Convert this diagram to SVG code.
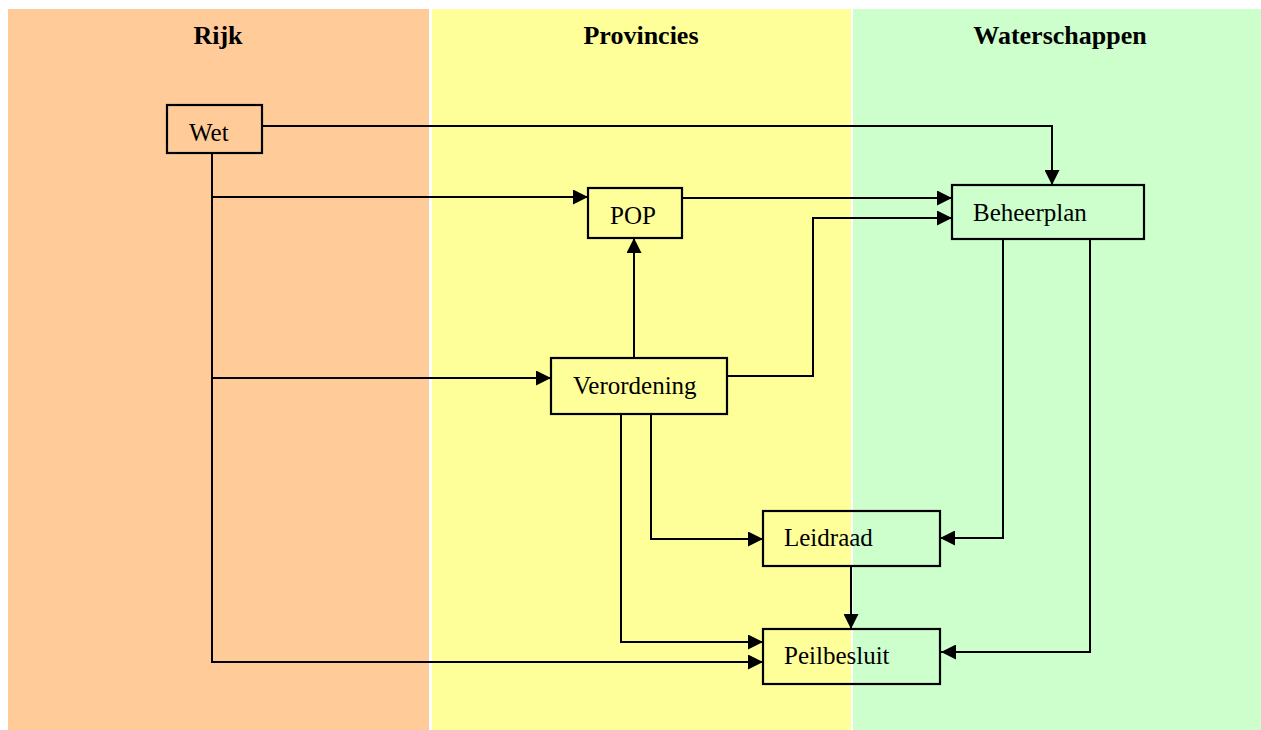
<svg xmlns="http://www.w3.org/2000/svg" width="1261" height="730" viewBox="0 0 1261 730">
<style>
.title{font-family:"Liberation Serif","Times New Roman",serif;font-size:26px;font-weight:bold;text-anchor:middle;fill:#000}
.lbl{font-family:"Liberation Serif","Times New Roman",serif;font-size:25px;fill:#000}
.box{fill:none;stroke:#000;stroke-width:2.2}
.conn path{fill:none;stroke:#000;stroke-width:2}
</style>
<defs>
<marker id="arr" markerUnits="userSpaceOnUse" markerWidth="15" markerHeight="15" refX="15" refY="7.5" orient="auto">
<path d="M0,0 L15,7.5 L0,15 z" fill="#000"/>
</marker>
</defs>
<rect width="1261" height="730" fill="#fff"/>
<g id="bands">
<rect x="8" y="9" width="421" height="721" fill="#FFCC99"/>
<rect x="432" y="9" width="419" height="721" fill="#FFFF99"/>
<rect x="853" y="9" width="408" height="721" fill="#CCFFCC"/>
<text class="title" x="218" y="44">Rijk</text>
<text class="title" x="641" y="44">Provincies</text>
<text class="title" x="1060" y="44">Waterschappen</text>
</g>
<g class="conn" id="connectors">
<path d="M262,126 H1052 V185" marker-end="url(#arr)"/>
<path d="M212,153 V662 H763" marker-end="url(#arr)"/>
<path d="M212,197 H588" marker-end="url(#arr)"/>
<path d="M212,378 H551" marker-end="url(#arr)"/>
<path d="M682,198 H952" marker-end="url(#arr)"/>
<path d="M727,376 H813 V218 H952" marker-end="url(#arr)"/>
<path d="M634,358 V238" marker-end="url(#arr)"/>
<path d="M651,414 V539 H763" marker-end="url(#arr)"/>
<path d="M621,414 V642 H763" marker-end="url(#arr)"/>
<path d="M851,566 V629" marker-end="url(#arr)"/>
<path d="M1003,239 V538 H940" marker-end="url(#arr)"/>
<path d="M1090,239 V652 H941" marker-end="url(#arr)"/>
</g>
<g id="wet"><rect class="box" x="167" y="105" width="95" height="48"/><text class="lbl" x="189" y="141">Wet</text></g>
<g id="pop"><rect class="box" x="588" y="188" width="94" height="50"/><text class="lbl" x="610" y="224">POP</text></g>
<g id="beheerplan"><rect class="box" x="952" y="185" width="192" height="54"/><text class="lbl" x="973" y="221">Beheerplan</text></g>
<g id="verordening"><rect class="box" x="551" y="358" width="176" height="56"/><text class="lbl" x="573" y="394">Verordening</text></g>
<g id="leidraad"><rect class="box" x="763" y="511" width="177" height="55"/><text class="lbl" x="784" y="546">Leidraad</text></g>
<g id="peilbesluit"><rect class="box" x="763" y="629" width="177" height="55"/><text class="lbl" x="784" y="664">Peilbesluit</text></g>
</svg>
